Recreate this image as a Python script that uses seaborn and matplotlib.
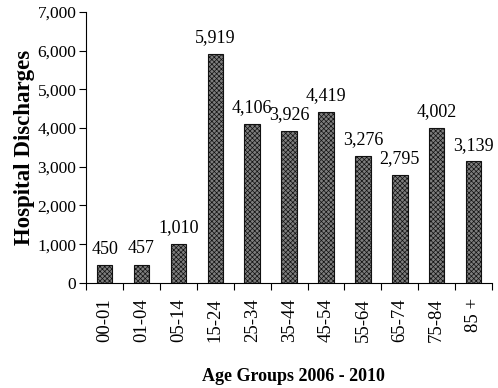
import matplotlib
matplotlib.use("Agg")
import matplotlib.pyplot as plt
from matplotlib.ticker import FuncFormatter, FixedLocator
import seaborn as sns
import pandas as pd
import numpy as np

age_groups = ["00-01", "01-04", "05-14", "15-24", "25-34", "35-44",
              "45-54", "55-64", "65-74", "75-84", "85 +"]
discharges = [450, 457, 1010, 5919, 4106, 3926, 4419, 3276, 2795, 4002, 3139]

sns.set_theme(style="white")
plt.rcParams["font.family"] = ["Liberation Serif", "DejaVu Serif"]
plt.rcParams["hatch.linewidth"] = 0.5
plt.rcParams["hatch.color"] = "#1a1a1a"

df = pd.DataFrame({"age": age_groups, "n": discharges})

fig = plt.figure(figsize=(4.98, 3.88), dpi=100)
ax = fig.add_axes([0.173, 0.271, 0.815, 0.698])

sns.barplot(data=df, x="age", y="n", color="#7d7d7d", width=0.42,
            edgecolor="#111111", linewidth=0.8, ax=ax, saturation=1)
for p in ax.patches:
    p.set_hatch("xxxxxxx")

for i, v in enumerate(discharges):
    ax.text(i, v + 200, f"{v:,}", ha="center", va="bottom", fontsize=13,
            color="black")

ax.set_ylim(0, 7000)
ax.set_xlim(-0.5, len(age_groups) - 0.5)
ax.set_yticks(np.arange(0, 7001, 1000))
ax.yaxis.set_major_formatter(FuncFormatter(lambda v, _: f"{int(v):,}"))
ax.tick_params(axis="y", labelsize=12.5, length=5, width=0.8, direction="out",
               left=True, color="black", pad=2, labelcolor="black")

ax.set_xticks(range(len(age_groups)))
ax.set_xticklabels(age_groups, rotation=90, fontsize=13.5, color="black")
ax.tick_params(axis="x", length=0, pad=11)
ax.xaxis.set_minor_locator(FixedLocator(np.arange(-0.5, len(age_groups), 1.0)))
ax.tick_params(axis="x", which="minor", length=5, width=0.8, direction="out",
               bottom=True, color="black")

for s in ["top", "right"]:
    ax.spines[s].set_visible(False)
for s in ["left", "bottom"]:
    ax.spines[s].set_color("black")
    ax.spines[s].set_linewidth(0.8)

ax.set_ylabel("Hospital Discharges", fontsize=16.5, fontweight="bold",
              color="black", labelpad=2)
ax.set_xlabel("")
fig.text(0.59, 0.008, "Age Groups 2006 - 2010", ha="center", va="bottom",
         fontsize=13, fontweight="bold", color="black")

fig.savefig("out.png", dpi=100, facecolor="white")
